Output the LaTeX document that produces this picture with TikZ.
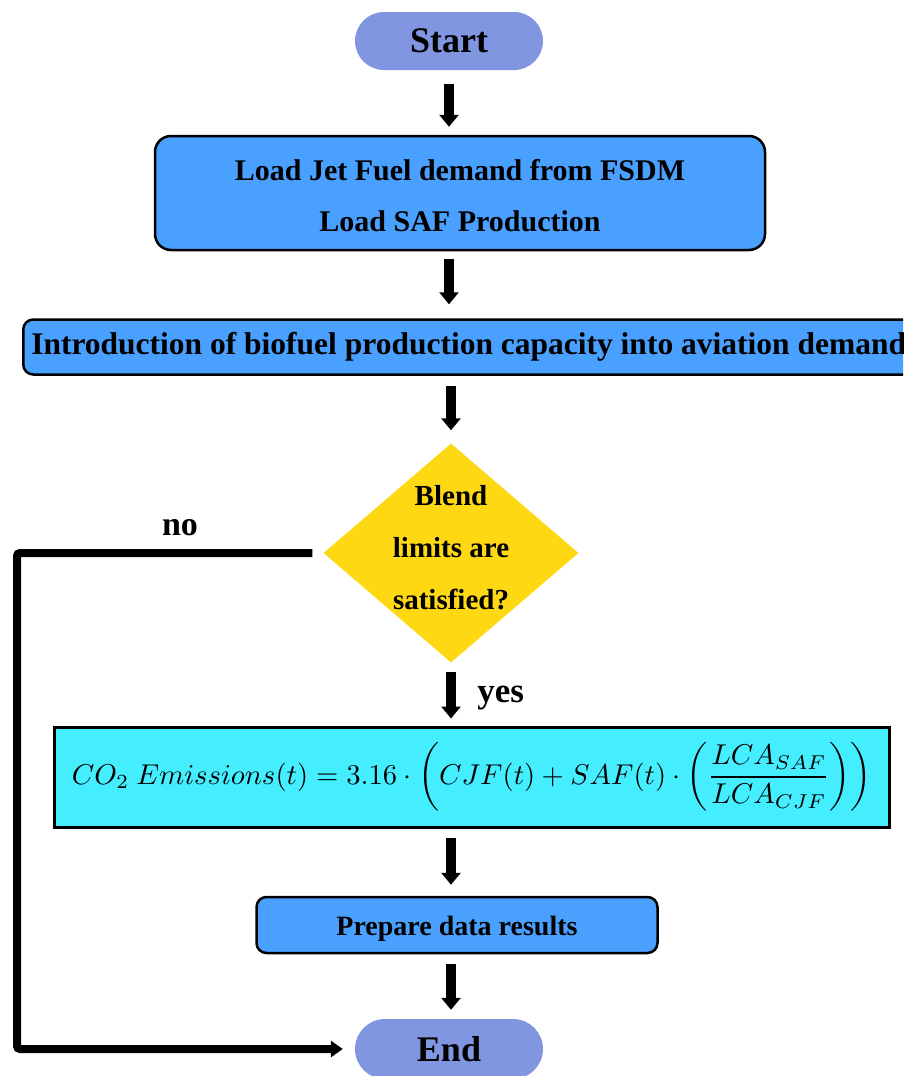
\documentclass[tikz,border=0pt]{standalone}
\usepackage{graphicx}
\usepackage{fontspec}
\setmainfont{Liberation Serif}
\usetikzlibrary{arrows.meta,shapes.geometric,positioning}

\definecolor{termblue}{RGB}{128,150,224}
\definecolor{procblue}{RGB}{74,160,255}
\definecolor{eqcyan}{RGB}{69,238,255}
\definecolor{decyellow}{RGB}{255,216,20}

\tikzset{
  term/.style={fill=termblue,rounded corners=29pt,minimum width=188pt,minimum height=58pt,
    font=\fontsize{36}{40}\selectfont\bfseries},
  proc/.style={draw=black,line width=2.5pt,fill=procblue,rounded corners=16pt,align=center,
    font=\fontsize{30}{51}\selectfont\bfseries},
  flow/.style={->,line width=10pt}
}

\begin{document}
\begin{tikzpicture}[x=1pt,y=-1pt,>={Triangle[width=19pt,length=12pt]}]
  \clip (0,0) rectangle (903,1076);
  \node[term] (start) at (449,41) {Start};
  \node[proc,minimum width=610pt,minimum height=114pt] (load) at (460,193) {};
  \node[align=center,font=\fontsize{30}{51}\selectfont\bfseries] (loadtxt) at (460,196)
    {Load Jet Fuel demand from FSDM\\Load SAF Production};
  \node[proc,anchor=west,minimum height=55pt,rounded corners=10pt,inner xsep=8pt,
    font=\fontsize{31.5}{36}\selectfont\bfseries] (intro) at (22,347)
    {Introduction of biofuel production capacity into aviation demand};
  \node[diamond,fill=decyellow,minimum width=255pt,minimum height=219pt,inner sep=0pt] (blend) at (451,553) {};
  \node[align=center,font=\fontsize{29}{52}\selectfont\bfseries] (blendtxt) at (451,548)
    {Blend\\limits are\\satisfied?};
  \node[draw=black,line width=3pt,fill=eqcyan,minimum width=835pt,minimum height=100pt] (co2) at (472,777)
    {\resizebox{800pt}{!}{$\displaystyle CO_2\ Emissions(t)=3.16\cdot\left(CJF(t)+SAF(t)\cdot\left(\frac{LCA_{SAF}}{LCA_{CJF}}\right)\right)$}};
  \node[proc,minimum width=401pt,minimum height=56pt,rounded corners=10pt,text height=26pt,text depth=6pt,
    font=\fontsize{28}{32}\selectfont\bfseries] (prep) at (457,925) {Prepare data results};
  \node[term,minimum height=60pt,rounded corners=30pt] (stop) at (449,1049) {End};

  % main flow
  \draw[flow,shorten <=14pt,shorten >=8pt] (start.south) -- (start.south |- load.north);
  \draw[flow,shorten <=8pt,shorten >=14pt] (start.south |- load.south) -- (start.south |- intro.north);
  \draw[flow,shorten <=10pt,shorten >=13pt] (blend.north |- intro.south) -- (blend.north);
  \draw[flow,shorten <=9pt,shorten >=7pt] (blend.south) -- (blend.south |- co2.north)
    node[midway,right=18pt,yshift=-4pt,font=\fontsize{35}{40}\selectfont\bfseries] (yes) {yes};
  \draw[flow,shorten <=9pt,shorten >=11pt] (blend.south |- co2.south) -- (blend.south |- prep.north);
  \draw[flow,shorten <=10pt,shorten >=9pt] (blend.south |- prep.south) -- (blend.south |- stop.north);

  % no branch
  \coordinate (nocorner) at (17,553);
  \draw[->,>={Triangle[width=16pt,length=12pt]},line width=8pt,rounded corners=3pt,shorten <=11pt,shorten >=12pt]
    (blend.west) -- (nocorner) -- (nocorner |- stop.west) -- (stop.west);
  \node[font=\fontsize{34}{40}\selectfont\bfseries] (no) at (180,528) {no};
\end{tikzpicture}
\end{document}
